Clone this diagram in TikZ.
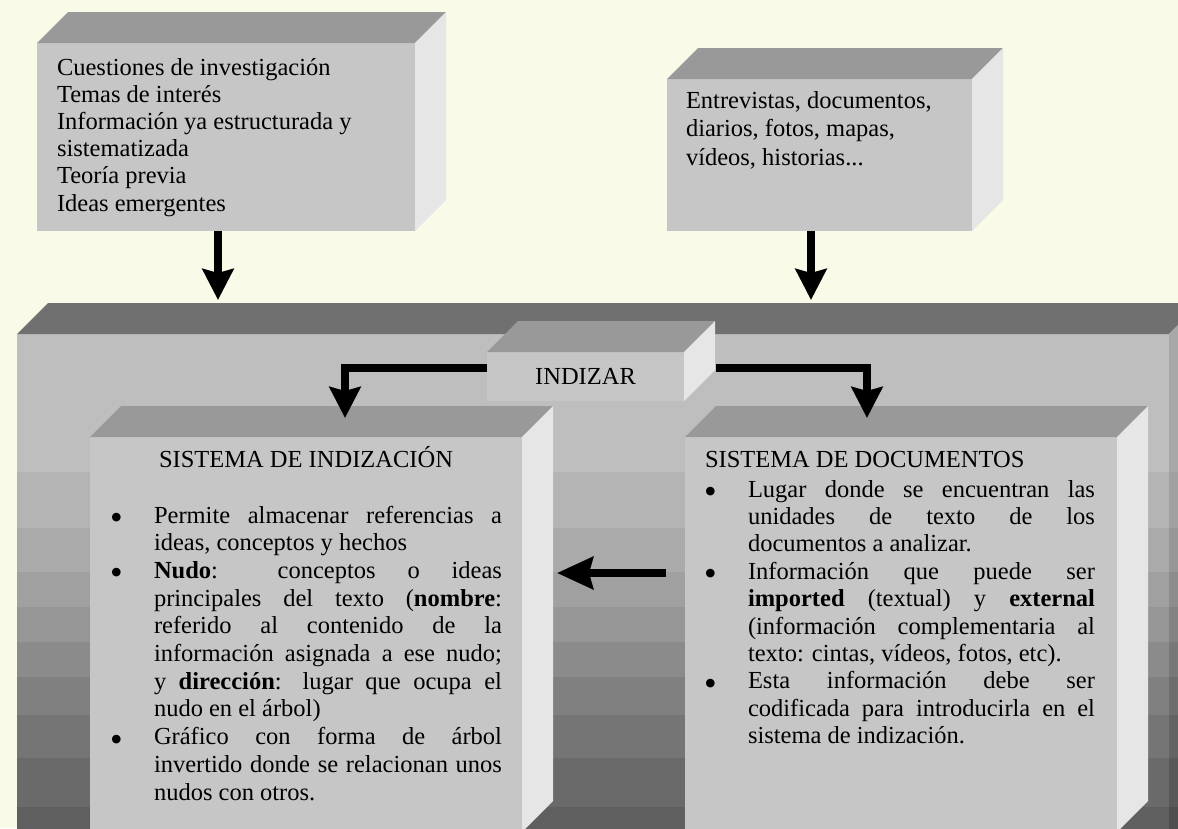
\documentclass[tikz,border=0pt]{standalone}
\usepackage{fontspec}
\setmainfont{Liberation Serif}
\usetikzlibrary{arrows.meta}
\definecolor{bgc}{RGB}{250,250,232}
\definecolor{frontc}{RGB}{198,198,198}
\definecolor{topc}{RGB}{153,153,153}
\definecolor{sidec}{RGB}{230,230,230}
\definecolor{bigtopc}{RGB}{112,112,112}
\newcommand{\boxfaces}[4]{%
  \fill[#3] (#1.north west) -- ([xshift=#2,yshift=#2]#1.north west) -- ([xshift=#2,yshift=#2]#1.north east) -- (#1.north east) -- cycle;
  \fill[#4] (#1.north east) -- ([xshift=#2,yshift=#2]#1.north east) -- ([xshift=#2,yshift=#2]#1.south east) -- (#1.south east) -- cycle;}
\newcommand{\jl}[2]{\makebox[#1][s]{#2}}
\newcommand{\bul}{\makebox[44pt][l]{\raisebox{-6.5pt}{\fontsize{36}{0}\selectfont\textbullet}}}
\newcommand{\ind}{\hspace*{44pt}}
\begin{document}
\begin{tikzpicture}[x=1pt,y=-1pt,
  facebox/.style={fill=frontc,inner sep=0pt,outer sep=0pt,anchor=north west},
  txt/.style={inner sep=0pt,outer sep=0pt,font=\fontsize{24.5}{27.7}\selectfont},
  arr/.style={line width=7.5pt,-{Stealth[length=31pt,width=31pt,inset=4pt]}},
  arrlong/.style={line width=7.5pt,-{Stealth[length=36pt,width=32pt,inset=4pt]}}]
\useasboundingbox (0,0) rectangle (1178,828);
\clip (0,0) rectangle (1178,828);
\fill[bgc] (0,0) rectangle (1178,828);

% big box
\node[inner sep=0pt,outer sep=0pt,anchor=north west,minimum width=1152pt,minimum height=520pt] (big) at (17,334) {};
\foreach \ya/\yb/\g in {334/472/0.745,472/528/0.706,528/572/0.667,572/607/0.627,607/642/0.588,642/677/0.545,677/715/0.502,715/758/0.459,758/807/0.416,807/870/0.373}{
  \definecolor{bandc}{gray}{\g}
  \fill[bandc] (17,\ya) rectangle (1169,\yb);
}
\fill[bigtopc] (big.north west) -- ([xshift=31pt,yshift=31pt]big.north west) -- ([xshift=31pt,yshift=31pt]big.north east) -- (big.north east) -- cycle;
\begin{scope}
\clip (big.north east) -- ([xshift=31pt,yshift=31pt]big.north east) -- ([xshift=31pt,yshift=31pt]big.south east) -- (big.south east) -- cycle;
\foreach \ya/\yb/\g in {290/472/0.66,472/528/0.63,528/572/0.59,572/607/0.55,607/642/0.51,642/677/0.47,677/715/0.43,715/758/0.39,758/807/0.35,807/900/0.31}{
  \definecolor{bandc}{gray}{\g}
  \fill[bandc] (1169,\ya) rectangle (1210,\yb);
}
\end{scope}
\coordinate (bigtop) at (48,300);

% top boxes
\node[facebox,minimum width=378pt,minimum height=188pt] (tl) at (37,43) {};
\boxfaces{tl}{31pt}{topc}{sidec}
\node[facebox,minimum width=305pt,minimum height=152pt] (tr) at (667,79) {};
\boxfaces{tr}{31pt}{topc}{sidec}

% INDIZAR box
\node[facebox,minimum width=197pt,minimum height=49pt,anchor=north west,font=\fontsize{24.5}{27.7}\selectfont] (ind) at (487,352) {INDIZAR};
\boxfaces{ind}{31pt}{topc}{sidec}

% inner boxes
\node[facebox,minimum width=432pt,minimum height=395pt] (si) at (90,437) {};
\boxfaces{si}{31pt}{topc}{sidec}
\node[facebox,minimum width=432pt,minimum height=395pt] (sd) at (685,437) {};
\boxfaces{sd}{31pt}{topc}{sidec}

% texts
\node[txt,anchor=base west,font=\fontsize{24.5}{27.2}\selectfont] (tltext) at (57,75) {\parbox[t]{360pt}{%
Cuestiones de investigación\\
Temas de interés\\
Información ya estructurada y\\
sistematizada\\
Teoría previa\\
Ideas emergentes}};
\node[txt,anchor=base west,font=\fontsize{24.5}{28.5}\selectfont] (trtext) at (686,108) {\parbox[t]{280pt}{%
Entrevistas, documentos,\\
diarios, fotos, mapas,\\
vídeos, historias...}};

\node[txt,anchor=base] (sititle) at (306,467) {SISTEMA DE INDIZACIÓN};
\node[txt,anchor=base west] (sdtitle) at (705,467) {SISTEMA DE DOCUMENTOS};

\node[txt,anchor=base west] (sibody) at (110,523) {\parbox[t]{392pt}{%
\bul\jl{348pt}{Permite almacenar referencias a}\\
\ind ideas, conceptos y hechos\\
\bul\jl{348pt}{\textbf{Nudo}: conceptos o ideas}\\
\ind\jl{348pt}{principales del texto (\textbf{nombre}:}\\
\ind\jl{348pt}{referido al contenido de la}\\
\ind\jl{348pt}{información asignada a ese nudo;}\\
\ind\jl{348pt}{y \textbf{dirección}: lugar que ocupa el}\\
\ind nudo en el árbol)\\
\bul\jl{348pt}{Gráfico con forma de árbol}\\
\ind\jl{348pt}{invertido donde se relacionan unos}\\
\ind nudos con otros.}};

\node[txt,anchor=base west,font=\fontsize{24.5}{27.4}\selectfont] (sdbody) at (704,497) {\parbox[t]{391pt}{%
\bul\jl{347pt}{Lugar donde se encuentran las}\\
\ind\jl{347pt}{unidades de texto de los}\\
\ind documentos a analizar.\\
\bul\jl{347pt}{Información que puede ser}\\
\ind\jl{347pt}{\textbf{imported} (textual) y \textbf{external}}\\
\ind\jl{347pt}{(información complementaria al}\\
\ind texto: cintas, vídeos, fotos, etc).\\
\bul\jl{347pt}{Esta información debe ser}\\
\ind\jl{347pt}{codificada para introducirla en el}\\
\ind sistema de indización.}};

% arrows
\draw[arr] ([xshift=-8pt]tl.south) -- ([xshift=-8pt]tl.south |- bigtop);
\draw[arr] ([xshift=-8.5pt]tr.south) -- ([xshift=-8.5pt]tr.south |- bigtop);
\draw[arr] ([yshift=8.5pt]ind.west) -| ([xshift=39pt,yshift=19pt]si.north);
\draw[arr] ([xshift=32pt,yshift=8.5pt]ind.east) -| ([xshift=-34pt,yshift=19pt]sd.north);
\draw[arrlong] ([xshift=-19pt,yshift=61.5pt]sd.west) -- ([xshift=35pt,yshift=61.5pt]si.east);
\end{tikzpicture}
\end{document}
